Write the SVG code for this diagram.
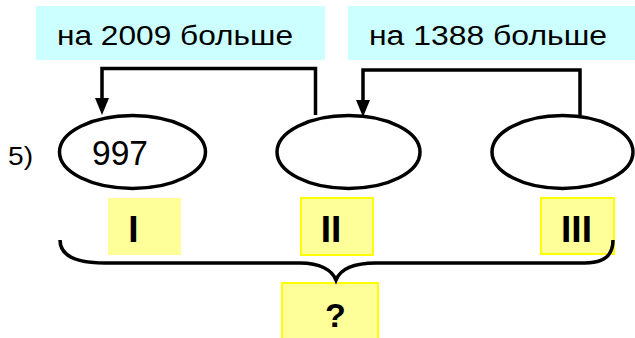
<svg xmlns="http://www.w3.org/2000/svg" width="635" height="338" viewBox="0 0 635 338">
<style>
.lbl{fill:#CCFFFF}
.t{font-family:"Liberation Sans",Arial,sans-serif;fill:#000}
.ell{fill:#fff;stroke:#000;stroke-width:3.5}
.yb{fill:#FFFF99;stroke:#FFFF00;stroke-width:2}
.yn{fill:#FFFF99}
.b{font-family:"Liberation Sans",Arial,sans-serif;font-weight:bold;fill:#000}
.ln{fill:none;stroke:#000;stroke-width:3.5}
</style>
<rect width="635" height="338" fill="#fff"/>
<g id="label1">
<rect class="lbl" x="36" y="6" width="289" height="54"/>
<text class="t" x="57" y="45" font-size="27" textLength="236" lengthAdjust="spacingAndGlyphs">на 2009 больше</text>
</g>
<g id="label2">
<rect class="lbl" x="348" y="6" width="287" height="54"/>
<text class="t" x="369" y="45" font-size="27" textLength="238" lengthAdjust="spacingAndGlyphs">на 1388 больше</text>
</g>
<g id="num">
<text class="t" x="8" y="165" font-size="26" textLength="25" lengthAdjust="spacingAndGlyphs">5)</text>
</g>
<g id="connectors">
<path class="ln" d="M315.5,115 V68.5 H102 V100"/>
<polygon points="95,98 109,98 102,115" fill="#000"/>
<path class="ln" d="M580,117 V70 H363 V102"/>
<polygon points="356,100 370,100 363,117" fill="#000"/>
</g>
<g id="e1">
<ellipse class="ell" cx="132.5" cy="152" rx="73" ry="36.5"/>
<text class="t" x="92" y="165" font-size="35" textLength="56" lengthAdjust="spacingAndGlyphs">997</text>
</g>
<g id="e2">
<ellipse class="ell" cx="348.5" cy="152" rx="71.5" ry="36.5"/>
</g>
<g id="e3">
<ellipse class="ell" cx="562.5" cy="152" rx="70.5" ry="36.5"/>
</g>
<g id="boxI">
<rect class="yn" x="108" y="198" width="73" height="57"/>
<text class="b" x="133.5" y="242" font-size="37" text-anchor="middle">I</text>
</g>
<g id="boxII">
<rect class="yb" x="301" y="198" width="72" height="57"/>
<text class="b" x="331" y="242" font-size="37" text-anchor="middle">II</text>
</g>
<g id="boxIII">
<rect class="yb" x="541" y="198" width="73" height="56"/>
<text class="b" x="576.5" y="242" font-size="37" text-anchor="middle">III</text>
</g>
<g id="boxQ">
<rect class="yb" x="282" y="283" width="96" height="60"/>
<text class="b" x="335.5" y="327" font-size="34" text-anchor="middle">?</text>
</g>
<g id="brace">
<path class="ln" d="M60,240 C60,258 80,263 105,263 L300,263 C320,263 332,270 336,280 C340,270 352,263 376,263 L585,263 C605,263 613,255 613,240"/>
</g>
</svg>
